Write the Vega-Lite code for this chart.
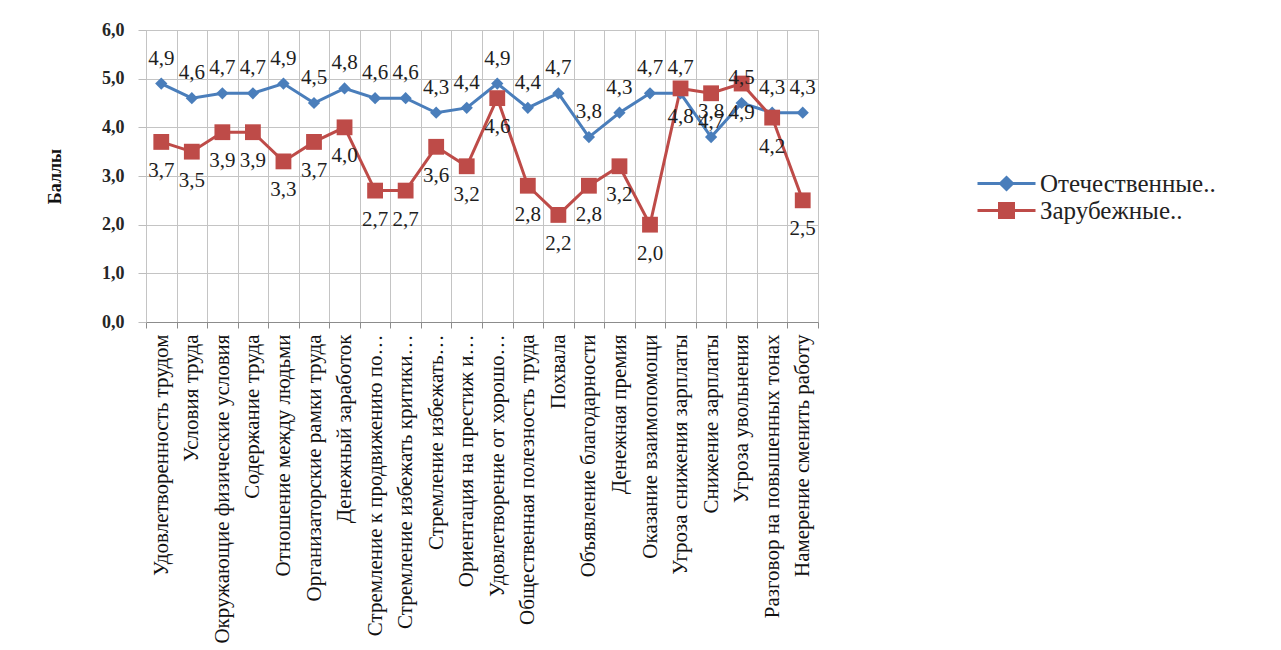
{
  "$schema": "https://vega.github.io/schema/vega-lite/v6.json",
  "width": 672,
  "height": 292,
  "autosize": "none",
  "padding": {"left": 146, "top": 30, "right": 463, "bottom": 328},
  "background": "white",
  "config": {
    "locale": {"number": {"decimal": ",", "thousands": " ", "grouping": [3], "currency": ["", " ₽"]}},
    "font": "Liberation Serif",
    "view": {"stroke": "#bdbdbd", "strokeWidth": 1}
  },
  "data": {
    "values": [
      {"factor": "Удовлетворенность трудом", "group": "Отечественные..", "score": 4.9},
      {"factor": "Условия труда", "group": "Отечественные..", "score": 4.6},
      {"factor": "Окружающие физические условия", "group": "Отечественные..", "score": 4.7},
      {"factor": "Содержание труда", "group": "Отечественные..", "score": 4.7},
      {"factor": "Отношение между людьми", "group": "Отечественные..", "score": 4.9},
      {"factor": "Организаторские рамки труда", "group": "Отечественные..", "score": 4.5},
      {"factor": "Денежный заработок", "group": "Отечественные..", "score": 4.8},
      {"factor": "Стремление к продвижению по…", "group": "Отечественные..", "score": 4.6},
      {"factor": "Стремление избежать критики…", "group": "Отечественные..", "score": 4.6},
      {"factor": "Стремление избежать…", "group": "Отечественные..", "score": 4.3},
      {"factor": "Ориентация на престиж и…", "group": "Отечественные..", "score": 4.4},
      {"factor": "Удовлетворение от хорошо…", "group": "Отечественные..", "score": 4.9},
      {"factor": "Общественная полезность труда", "group": "Отечественные..", "score": 4.4},
      {"factor": "Похвала", "group": "Отечественные..", "score": 4.7},
      {"factor": "Объявление благодарности", "group": "Отечественные..", "score": 3.8},
      {"factor": "Денежная премия", "group": "Отечественные..", "score": 4.3},
      {"factor": "Оказание взаимопомощи", "group": "Отечественные..", "score": 4.7},
      {"factor": "Угроза снижения зарплаты", "group": "Отечественные..", "score": 4.7},
      {"factor": "Снижение зарплаты", "group": "Отечественные..", "score": 3.8},
      {"factor": "Угроза увольнения", "group": "Отечественные..", "score": 4.5},
      {"factor": "Разговор на повышенных тонах", "group": "Отечественные..", "score": 4.3},
      {"factor": "Намерение сменить работу", "group": "Отечественные..", "score": 4.3},
      {"factor": "Удовлетворенность трудом", "group": "Зарубежные..", "score": 3.7},
      {"factor": "Условия труда", "group": "Зарубежные..", "score": 3.5},
      {"factor": "Окружающие физические условия", "group": "Зарубежные..", "score": 3.9},
      {"factor": "Содержание труда", "group": "Зарубежные..", "score": 3.9},
      {"factor": "Отношение между людьми", "group": "Зарубежные..", "score": 3.3},
      {"factor": "Организаторские рамки труда", "group": "Зарубежные..", "score": 3.7},
      {"factor": "Денежный заработок", "group": "Зарубежные..", "score": 4.0},
      {"factor": "Стремление к продвижению по…", "group": "Зарубежные..", "score": 2.7},
      {"factor": "Стремление избежать критики…", "group": "Зарубежные..", "score": 2.7},
      {"factor": "Стремление избежать…", "group": "Зарубежные..", "score": 3.6},
      {"factor": "Ориентация на престиж и…", "group": "Зарубежные..", "score": 3.2},
      {"factor": "Удовлетворение от хорошо…", "group": "Зарубежные..", "score": 4.6},
      {"factor": "Общественная полезность труда", "group": "Зарубежные..", "score": 2.8},
      {"factor": "Похвала", "group": "Зарубежные..", "score": 2.2},
      {"factor": "Объявление благодарности", "group": "Зарубежные..", "score": 2.8},
      {"factor": "Денежная премия", "group": "Зарубежные..", "score": 3.2},
      {"factor": "Оказание взаимопомощи", "group": "Зарубежные..", "score": 2.0},
      {"factor": "Угроза снижения зарплаты", "group": "Зарубежные..", "score": 4.8},
      {"factor": "Снижение зарплаты", "group": "Зарубежные..", "score": 4.7},
      {"factor": "Угроза увольнения", "group": "Зарубежные..", "score": 4.9},
      {"factor": "Разговор на повышенных тонах", "group": "Зарубежные..", "score": 4.2},
      {"factor": "Намерение сменить работу", "group": "Зарубежные..", "score": 2.5}
    ]
  },
  "encoding": {
    "x": {
      "field": "factor",
      "type": "nominal",
      "sort": null,
      "scale": {"type": "band", "paddingInner": 0, "paddingOuter": 0},
      "axis": {
        "title": null,
        "labelAngle": -90,
        "labelFontSize": 21,
        "labelColor": "#111111",
        "labelLimit": 320,
        "labelPadding": 6,
        "tickBand": "extent",
        "tickSize": 6,
        "tickColor": "#8c8c8c",
        "domainColor": "#8c8c8c",
        "grid": true,
        "gridColor": "#c4c4c4"
      }
    },
    "y": {
      "field": "score",
      "type": "quantitative",
      "scale": {"domain": [0, 6]},
      "axis": {
        "title": "Баллы",
        "titleFontSize": 18,
        "titleFontWeight": "bold",
        "titleColor": "#111111",
        "titlePadding": 37,
        "values": [0, 1, 2, 3, 4, 5, 6],
        "format": ".1f",
        "labelFontSize": 18,
        "labelFontWeight": "bold",
        "labelColor": "#262626",
        "labelPadding": 14,
        "domain": false,
        "tickSize": 8,
        "tickColor": "#bdbdbd",
        "grid": true,
        "gridColor": "#c4c4c4"
      }
    },
    "color": {
      "field": "group",
      "type": "nominal",
      "sort": null,
      "scale": {"domain": ["Отечественные..", "Зарубежные.."], "range": ["#4a7ebb", "#be4b48"]}
    }
  },
  "layer": [
    {
      "mark": {"type": "line", "strokeWidth": 3},
      "encoding": {
        "color": {
          "field": "group",
          "type": "nominal",
          "sort": null,
          "scale": {"domain": ["Отечественные..", "Зарубежные.."], "range": ["#4a7ebb", "#be4b48"]},
          "legend": {
            "title": null,
            "orient": "none",
            "legendX": 848,
            "legendY": 141,
            "labelFontSize": 25,
            "labelColor": "#222222",
            "labelLimit": 400,
            "labelOffset": 21,
            "symbolSize": 400,
            "symbolStrokeWidth": 3,
            "rowPadding": 0,
            "encode": {
              "symbols": {
                "update": {
                  "shape": {"signal": "datum.value == 'Отечественные..' ? 'M-2.9,0H2.9M0,-0.6L0.6,0L0,0.6L-0.6,0Z' : 'M-2.9,0H2.9M-0.7,-0.7H0.7V0.7H-0.7Z'"},
                  "fill": {"signal": "datum.value == 'Отечественные..' ? '#4a7ebb' : '#be4b48'"},
                  "stroke": {"signal": "datum.value == 'Отечественные..' ? '#4a7ebb' : '#be4b48'"},
                  "strokeWidth": {"value": 3}
                }
              }
            }
          }
        }
      }
    },
    {
      "transform": [{"filter": "datum.group == 'Отечественные..'"}],
      "mark": {"type": "point", "shape": "diamond", "filled": true, "opacity": 1, "size": 150},
      "encoding": {"color": {"value": "#4a7ebb"}}
    },
    {
      "transform": [{"filter": "datum.group == 'Зарубежные..'"}],
      "mark": {"type": "point", "shape": "square", "filled": true, "opacity": 1, "size": 250},
      "encoding": {"color": {"value": "#be4b48"}}
    },
    {
      "transform": [{"filter": "datum.group == 'Отечественные..'"}],
      "mark": {"type": "text", "dy": -25, "fontSize": 21, "baseline": "middle"},
      "encoding": {
        "text": {"field": "score", "type": "quantitative", "format": ".1f"},
        "color": {"value": "#1e1e1e"}
      }
    },
    {
      "transform": [{"filter": "datum.group == 'Зарубежные..'"}],
      "mark": {"type": "text", "dy": 29, "fontSize": 21, "baseline": "middle"},
      "encoding": {
        "text": {"field": "score", "type": "quantitative", "format": ".1f"},
        "color": {"value": "#1e1e1e"}
      }
    }
  ]
}
